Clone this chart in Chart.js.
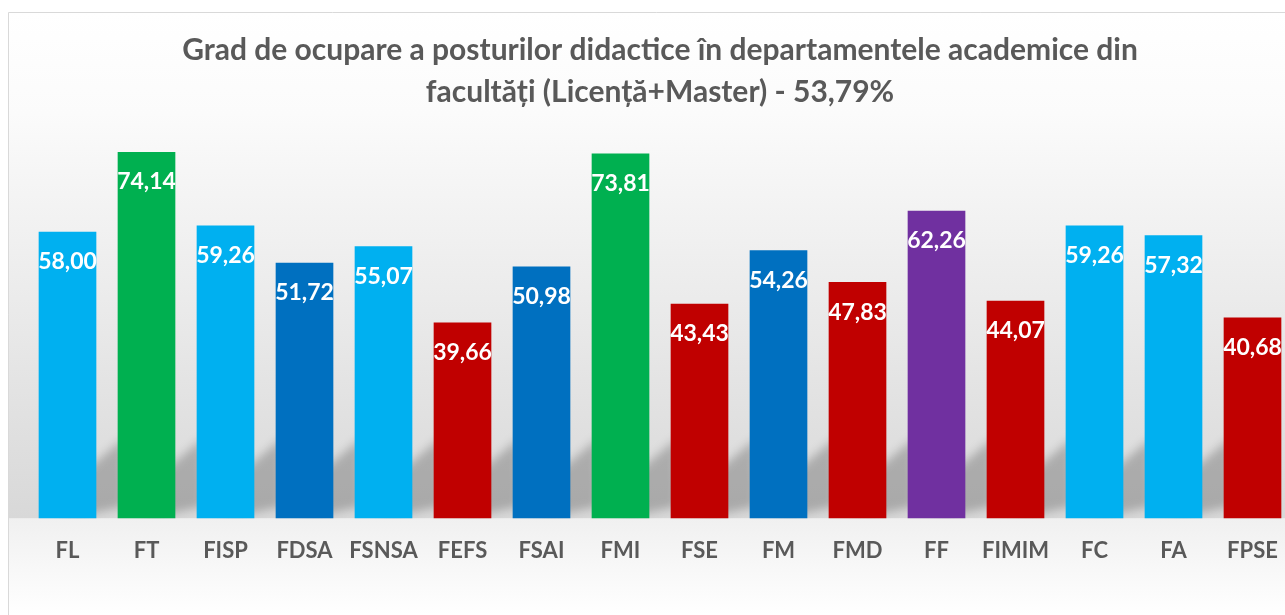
<!DOCTYPE html>
<html>
<head>
<meta charset="utf-8">
<script src="https://cdn.jsdelivr.net/npm/chart.js@4"></script>
<style>
  html, body { margin: 0; padding: 0; background: #fff; overflow: hidden; }
  #wrap { position: relative; width: 1304px; height: 615px; }
</style>
</head>
<body>
<div id="wrap"><canvas id="chart" width="1304" height="615"></canvas></div>
<script>
// -------- Datos --------
const categories = ["FL", "FT", "FISP", "FDSA", "FSNSA", "FEFS", "FSAI", "FMI",
                    "FSE", "FM", "FMD", "FF", "FIMIM", "FC", "FA", "FPSE"];
const values = [58.00, 74.14, 59.26, 51.72, 55.07, 39.66, 50.98, 73.81,
                43.43, 54.26, 47.83, 62.26, 44.07, 59.26, 57.32, 40.68];
const barColors = ["#00B0F0", "#00B050", "#00B0F0", "#0070C0", "#00B0F0", "#C00000", "#0070C0", "#00B050",
                   "#C00000", "#0070C0", "#C00000", "#7030A0", "#C00000", "#00B0F0", "#00B0F0", "#C00000"];
const titleLines = ["Grad de ocupare a posturilor didactice în departamentele academice din",
                    "facultăți (Licență+Master) - 53,79%"];

const FONT = "Lato, 'Open Sans', sans-serif";
const fmt = v => v.toFixed(2).replace(".", ",");

// -------- Fondo con marco y degradado --------
const backgroundPlugin = {
  id: "background",
  beforeDraw(chart) {
    const { ctx, chartArea } = chart;
    const h = chart.height, w = chart.width;
    const top = 12, bottom = chartArea.bottom;
    ctx.save();
    let g = ctx.createLinearGradient(0, top, 0, bottom);
    g.addColorStop(0, "#ffffff");
    g.addColorStop(0.2, "#fbfbfb");
    g.addColorStop(1, "#d8d8d8");
    ctx.fillStyle = g;
    ctx.fillRect(8, top, w, bottom - top);
    g = ctx.createLinearGradient(0, bottom, 0, h);
    g.addColorStop(0, "#f0f0f0");
    g.addColorStop(1, "#ffffff");
    ctx.fillStyle = g;
    ctx.fillRect(8, bottom, w, h - bottom);
    ctx.strokeStyle = "#d9d9d9";
    ctx.lineWidth = 1;
    ctx.beginPath();
    ctx.moveTo(8.5, h + 2);
    ctx.lineTo(8.5, top + 0.5);
    ctx.lineTo(w + 2, top + 0.5);
    ctx.stroke();
    ctx.restore();
  }
};

// -------- Sombras detras de las barras --------
const shadowPlugin = {
  id: "barShadow",
  beforeDatasetsDraw(chart) {
    const { ctx, chartArea } = chart;
    const meta = chart.getDatasetMeta(0);
    ctx.save();
    ctx.beginPath();
    ctx.rect(chartArea.left + 12, chartArea.top, chartArea.right, chartArea.bottom - chartArea.top);
    ctx.clip();
    ctx.filter = "blur(5px)";
    ctx.fillStyle = "rgba(0,0,0,0.22)";
    meta.data.forEach((bar, i) => {
      if (i === 0) return;
      const l = bar.x - bar.width / 2, b = bar.base;
      ctx.beginPath();
      ctx.moveTo(l + 6, b - 80);
      ctx.lineTo(l + 6, b - 12);
      ctx.lineTo(l - 40, b - 2);
      ctx.lineTo(l - 60, b - 6);
      ctx.lineTo(l - 60, b - 24);
      ctx.closePath();
      ctx.fill();
    });
    ctx.restore();
  }
};

// -------- Etiquetas de valor --------
const valueLabels = {
  id: "valueLabels",
  afterDatasetsDraw(chart) {
    const { ctx } = chart;
    const meta = chart.getDatasetMeta(0);
    ctx.save();
    ctx.font = "bold 23px " + FONT;
    ctx.fillStyle = "#ffffff";
    ctx.textAlign = "center";
    ctx.textBaseline = "middle";
    meta.data.forEach((bar, i) => {
      ctx.fillText(fmt(values[i]), bar.x, bar.y + 30);
    });
    ctx.restore();
  }
};

new Chart(document.getElementById("chart"), {
  type: "bar",
  data: {
    labels: categories,
    datasets: [{
      data: values,
      backgroundColor: barColors,
      borderWidth: 0,
      barPercentage: 0.73,
      categoryPercentage: 1.0
    }]
  },
  options: {
    responsive: false,
    animation: false,
    devicePixelRatio: 1,
    layout: { padding: { left: 28, right: 12, top: 0, bottom: 40 } },
    plugins: {
      legend: { display: false },
      tooltip: { enabled: false },
      title: {
        display: true,
        text: titleLines,
        color: "#595959",
        font: { family: FONT, size: 30, weight: "bold", lineHeight: 1.4 },
        padding: { top: 29, bottom: 10 }
      }
    },
    scales: {
      x: {
        grid: { display: false },
        border: { display: false },
        ticks: { color: "#595959", font: { family: FONT, size: 22, weight: "bold" }, padding: 11, maxRotation: 0, autoSkip: false }
      },
      y: {
        display: false,
        min: 0,
        max: 80
      }
    }
  },
  plugins: [backgroundPlugin, shadowPlugin, valueLabels]
});
</script>
</body>
</html>
